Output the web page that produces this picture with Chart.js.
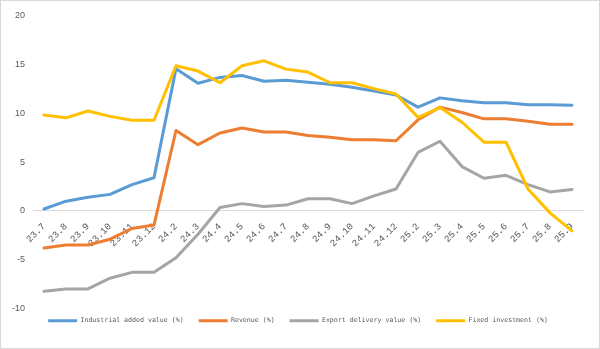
<!DOCTYPE html>
<html><head><meta charset="utf-8">
<script src="https://cdn.jsdelivr.net/npm/chart.js@4"></script>
<style>
html,body{margin:0;padding:0;background:#fff;}
#wrap{position:relative;width:600px;height:349px;box-sizing:border-box;border:1px solid #d9d9d9;}
canvas{display:block;}
</style></head>
<body><div id="wrap"><canvas id="c" width="598" height="347"></canvas></div>
<script>
const categories = ['23.7','23.8','23.9','23.10','23.11','23.12','24.2','24.3','24.4','24.5','24.6','24.7','24.8','24.9','24.10','24.11','24.12','25.2','25.3','25.4','25.5','25.6','25.7','25.8','25.9'];
const industrialAddedValue = [0.2,1.0,1.4,1.7,2.7,3.4,14.6,13.1,13.7,13.9,13.3,13.4,13.2,13.0,12.7,12.3,11.9,10.65,11.6,11.3,11.1,11.1,10.9,10.9,10.85];
const revenue = [-3.8,-3.5,-3.5,-2.9,-1.8,-1.45,8.25,6.8,8.0,8.5,8.1,8.1,7.75,7.55,7.3,7.3,7.2,9.35,10.65,10.1,9.45,9.45,9.2,8.9,8.9];
const exportDelivery = [-8.25,-8.0,-8.0,-6.9,-6.3,-6.3,-4.8,-2.4,0.35,0.75,0.45,0.6,1.25,1.25,0.75,1.55,2.25,6.0,7.15,4.55,3.35,3.65,2.7,1.95,2.2];
const fixedInvestment = [9.85,9.55,10.25,9.7,9.3,9.3,14.9,14.35,13.15,14.9,15.4,14.55,14.25,13.15,13.15,12.55,12.0,9.6,10.6,9.1,7.05,7.05,2.25,-0.2,-2.05];
const seriesNames = ['Industrial added value (%)','Revenue (%)','Export delivery value (%)','Fixed investment (%)'];
const yTicks = [-10,-5,0,5,10,15,20];

const colors = ['#5B9BD5','#ED7D31','#A5A5A5','#FFC000'];
const seriesData = [industrialAddedValue, revenue, exportDelivery, fixedInvestment];
const datasets = seriesData.map((d,i)=>({
  label: seriesNames[i], data: d, borderColor: colors[i], backgroundColor: colors[i],
  borderWidth: 3, pointRadius: 0, tension: 0, fill: false, order: 4-i,
  borderCapStyle:'round', borderJoinStyle:'round'
}));

const legendShift = { id:'legendShift', afterLayout(chart){ const l = chart.legend; if(l){ l.top -= 6; l.bottom -= 6; l.left += 6; l.right += 6; } } };

new Chart(document.getElementById('c'), {
  type: 'line',
  data: { labels: categories, datasets },
  plugins: [legendShift],
  options: {
    responsive: false, animation: false,
    layout: { padding: { left: 0, right: 16, top: 15, bottom: 8 } },
    plugins: {
      tooltip: { enabled: false },
      legend: {
        position: 'bottom',
        labels: {
          font: { family: "'DejaVu Sans Mono', monospace", size: 6.6 },
          color: '#595959', boxWidth: 29, boxHeight: 3, padding: 15,
          sort: (a,b)=>a.datasetIndex-b.datasetIndex,
          generateLabels: (chart) => Chart.defaults.plugins.legend.labels.generateLabels(chart).map(l=>Object.assign(l,{lineWidth:0}))
        }
      }
    },
    scales: {
      x: {
        position: { y: 0 }, offset: true,
        grid: { display: false, drawTicks: false },
        border: { display: true, color: '#d9d9d9', width: 1 },
        ticks: { color: '#595959', font: { family: "'Liberation Mono', monospace", size: 9.5 }, minRotation: 45, maxRotation: 45, autoSkip: false, padding: 10 }
      },
      y: {
        min: -10, max: 20,
        afterBuildTicks: (s) => { s.ticks = yTicks.map(v=>({value:v})); },
        afterFit: (s) => { s.width = 32; },
        grid: { display: false, drawTicks: false },
        border: { display: false },
        ticks: { color: '#595959', font: { family: "'Liberation Sans', sans-serif", size: 9 }, padding: 8 }
      }
    }
  }
});
</script></body></html>
